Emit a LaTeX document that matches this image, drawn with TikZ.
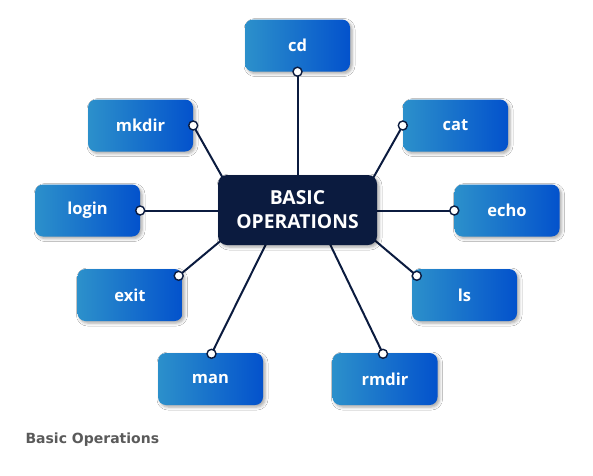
\documentclass[tikz,border=0pt]{standalone}
\usepackage{fontspec}
\setmainfont{Open Sans}
\newfontfamily\capfont{DejaVu Sans}
\usetikzlibrary{shadows.blur,calc}
\definecolor{navy}{HTML}{0B1B3F}
\definecolor{lblue}{HTML}{2C90CB}
\definecolor{dblue}{HTML}{0352CC}
\definecolor{capgray}{HTML}{5A5A5A}
\begin{document}
\begin{tikzpicture}[x=1pt,y=-1pt,
  leaf/.style={rounded corners=8pt, minimum width=105pt, minimum height=52pt,
    left color=lblue, right color=dblue, text=white,
    font=\bfseries\fontsize{16.5}{19}\selectfont,
    blur shadow={shadow xshift=2pt,shadow yshift=-2pt,shadow opacity=35,shadow blur radius=3pt}},
  hub/.style={rounded corners=9pt, minimum width=159pt, minimum height=70pt,
    fill=navy, text=white, align=center,
    font=\bfseries\fontsize{19.3}{24}\selectfont,
    blur shadow={shadow xshift=2pt,shadow yshift=-2pt,shadow opacity=35,shadow blur radius=3pt}},
  link/.style={draw=navy, line width=2pt},
  dot/.style={circle, draw=navy, fill=white, line width=1.4pt, inner sep=0pt, minimum size=9pt},
  caption/.style={font=\capfont\bfseries\fontsize{14}{16}\selectfont, text=capgray, anchor=west}]
\useasboundingbox (0,0) rectangle (593,475);
\fill[white] (0,0) rectangle (593,475);

\node[leaf] (cd) at (297.5,45.5) {cd};
\node[leaf] (cat) at (455.5,125.5) {cat};
\node[leaf] (echo) at (507,210.5) {echo};
\node[leaf] (ls) at (464.5,295) {ls};
\node[leaf] (rmdir) at (385,379) {rmdir};
\node[leaf] (man) at (210.5,379) {man};
\node[leaf] (exit) at (130,295) {exit};
\node[leaf] (login) at (87.5,210.5) {login};
\node[leaf] (mkdir) at (140.5,125.5) {mkdir};

\coordinate (dcd) at (cd.south);
\coordinate (dcat) at (cat.west);
\coordinate (decho) at (echo.west);
\coordinate (dls) at ($(ls.north west)+(5,7)$);
\coordinate (drmdir) at ($(rmdir.north)+(-2,1)$);
\coordinate (dman) at ($(man.north)+(1,1)$);
\coordinate (dexit) at ($(exit.north east)+(-4,7)$);
\coordinate (dlogin) at (login.east);
\coordinate (dmkdir) at (mkdir.east);

\coordinate (hub-c) at (297.5,210);
\coordinate (hcd) at (297.5,180);
\coordinate (hcat) at (372,180);
\coordinate (hecho) at (372,210.5);
\coordinate (hls) at (372,238);
\coordinate (hrmdir) at (328,240);
\coordinate (hman) at (268,240);
\coordinate (hexit) at (224,238);
\coordinate (hlogin) at (223,210.5);
\coordinate (hmkdir) at (224,180);

\foreach \n in {cd,cat,echo,ls,rmdir,man,exit,login,mkdir}{
  \draw[link] (h\n) -- (d\n);
}

\node[hub] (hub) at (hub-c) {BASIC\\OPERATIONS};

\foreach \n in {cd,cat,echo,ls,rmdir,man,exit,login,mkdir}{
  \node[dot] at (d\n) {};
}

\node[caption] (cap) at (22,440) {Basic Operations};
\end{tikzpicture}
\end{document}
